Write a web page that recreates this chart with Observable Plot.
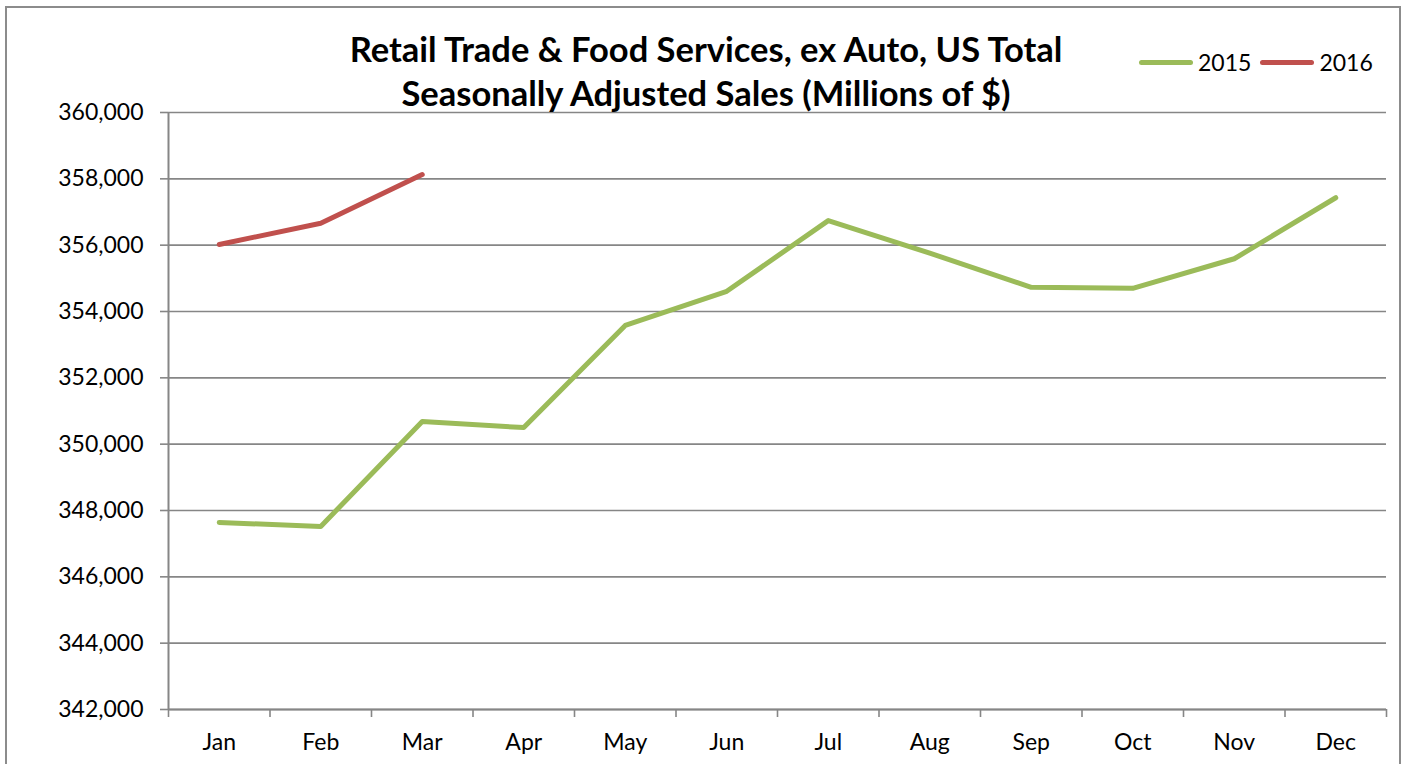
<!DOCTYPE html>
<html>
<head>
<meta charset="utf-8">
<script src="https://cdn.jsdelivr.net/npm/d3@7"></script>
<script src="https://cdn.jsdelivr.net/npm/@observablehq/plot@0.6"></script>
<style>
  html, body { margin: 0; padding: 0; background: #fff; }
  body { width: 1409px; height: 764px; overflow: hidden; position: relative; font-family: Lato, sans-serif; }
  #frame { position: absolute; left: 5px; top: 6px; width: 1396px; height: 800px; border: 2px solid #8c8c8c; box-sizing: border-box; pointer-events: none; }
  #header { position: relative; height: 80px; width: 1409px; z-index: 2; }
  #title { position: absolute; left: 0; width: 1412px; top: 27px; text-align: center; font-weight: 700; font-size: 34.5px; line-height: 44px; color: #000; white-space: nowrap; }
  #legend { position: absolute; left: 1139px; top: 48px; display: flex; align-items: center; font-size: 23px; color: #000; }
  .sw { display: inline-block; width: 54px; height: 5px; border-radius: 3px; margin-right: 5px; }
  .lab { margin-right: 9px; }
  #chart { position: relative; z-index: 1; }
  #chart svg { display: block; }
</style>
</head>
<body>
<div id="header">
  <div id="title">Retail Trade &amp; Food Services, ex Auto, US Total<br>Seasonally Adjusted Sales (Millions of $)</div>
  <div id="legend"></div>
</div>
<div id="chart"></div>
<div id="frame"></div>
<script>
const months = ["Jan","Feb","Mar","Apr","May","Jun","Jul","Aug","Sep","Oct","Nov","Dec"];
const sales2015 = [347640, 347520, 350680, 350500, 353580, 354610, 356740, 355760, 354730, 354700, 355590, 357430];
const sales2016 = [356020, 356660, 358130];
const seriesNames = ["2015", "2016"];
const seriesColors = ["#9BBB59", "#C0504D"];
const yTicks = [342000, 344000, 346000, 348000, 350000, 352000, 354000, 356000, 358000, 360000];

const rows2015 = sales2015.map((v, i) => ({m: i + 1, v}));
const rows2016 = sales2016.map((v, i) => ({m: i + 1, v}));
const monthNums = months.map((_, i) => i + 1);
const bounds = d3.range(0.5, months.length + 1, 1);

const legend = document.getElementById("legend");
seriesNames.forEach((n, i) => {
  const sw = document.createElement("span");
  sw.className = "sw"; sw.style.background = seriesColors[i];
  const lab = document.createElement("span");
  lab.className = "lab"; lab.textContent = n;
  legend.appendChild(sw); legend.appendChild(lab);
});

const gray = "#868686";
const chart = Plot.plot({
  width: 1409,
  height: 684,
  marginTop: 32,
  marginBottom: 55,
  marginLeft: 168,
  marginRight: 23,
  style: {fontFamily: "Lato, sans-serif", fontSize: "23px", color: "#000", background: "transparent"},
  x: {type: "linear", domain: [0.5, months.length + 0.5]},
  y: {domain: [342000, 360000]},
  marks: [
    Plot.gridY(yTicks, {stroke: gray, strokeOpacity: 1, strokeWidth: 1.6}),
    Plot.axisY(yTicks, {tickSize: 8, tickPadding: 17, tickFormat: d3.format(","), stroke: gray, strokeWidth: 1.6, fill: "#000", label: null, fontSize: 23}),
    Plot.axisX(bounds, {tickSize: 8, tickFormat: () => "", stroke: gray, strokeWidth: 1.6, label: null}),
    Plot.axisX(monthNums, {tickSize: 0, tickPadding: 24, tickFormat: d => months[d - 1], fill: "#000", label: null, fontSize: 23}),
    Plot.ruleX([0.5], {stroke: gray, strokeWidth: 2}),
    Plot.ruleY([342000], {stroke: gray, strokeWidth: 2}),
    Plot.line(rows2015, {x: "m", y: "v", stroke: seriesColors[0], strokeWidth: 5, strokeLinecap: "round", strokeLinejoin: "round"}),
    Plot.line(rows2016, {x: "m", y: "v", stroke: seriesColors[1], strokeWidth: 5, strokeLinecap: "round", strokeLinejoin: "round"})
  ]
});
document.getElementById("chart").appendChild(chart);
</script>
</body>
</html>
